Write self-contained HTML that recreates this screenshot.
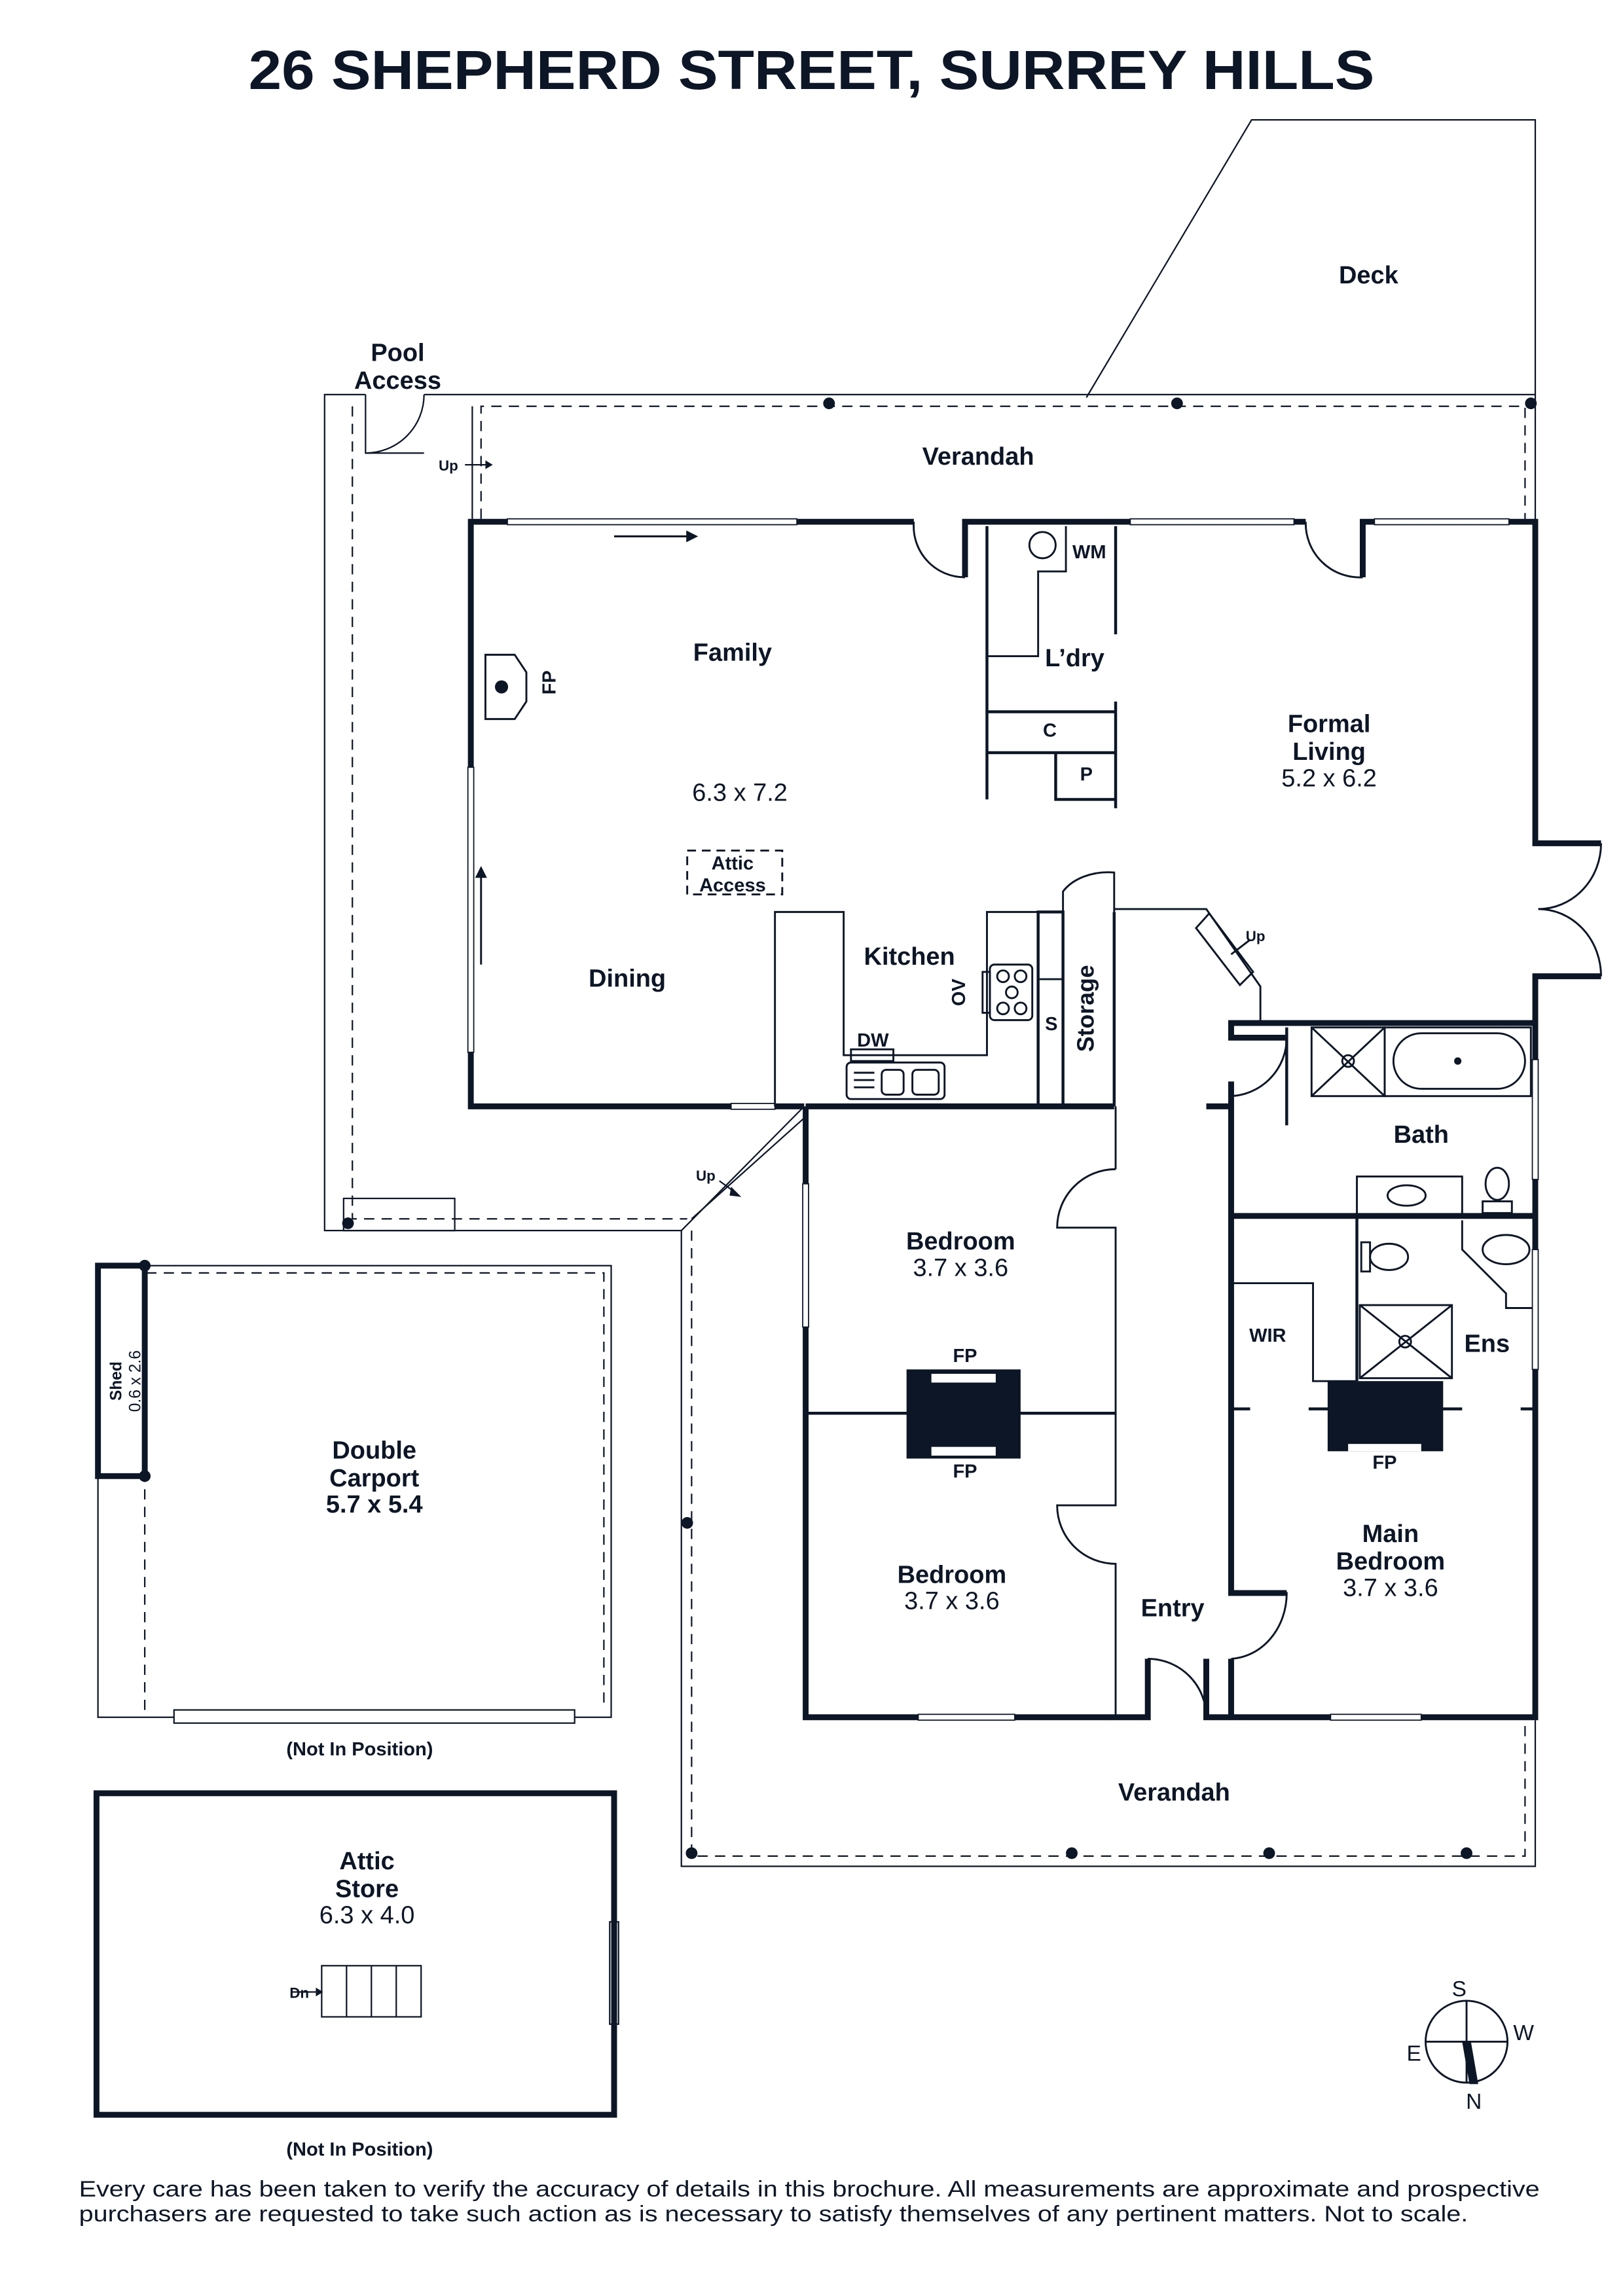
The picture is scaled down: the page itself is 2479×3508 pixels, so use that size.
<!DOCTYPE html>
<html><head><meta charset="utf-8"><style>
html,body{margin:0;padding:0;background:#fff}
svg{display:block}
text{font-family:"Liberation Sans",sans-serif;fill:#0d1626}
.b{font-weight:bold}
</style></head><body>
<svg width="2479" height="3508" viewBox="0 0 1110 1571" preserveAspectRatio="none" xmlns="http://www.w3.org/2000/svg">
<g stroke="#0d1626" fill="none" stroke-width="1">
<polyline points="743,272 856,82 1050,82 1050,357"/>
<line x1="290" y1="270" x2="1050" y2="270"/>
<polyline points="250,270 222,270 222,842 466,842"/>
<polyline points="250,270 250,310 290,310"/>
<path d="M290,270 A40,40 0 0 1 250,310"/>
<polyline points="329,355 329,278 1043,278 1043,355" stroke-dasharray="7,5"/>
<line x1="323" y1="278" x2="323" y2="355"/>
<polyline points="241,278 241,834 470,834" stroke-dasharray="7,5"/>
<rect x="235" y="820" width="76" height="22"/>
<line x1="466" y1="842" x2="550" y2="757"/>
<line x1="473" y1="834" x2="550" y2="765"/>
<polyline points="466,842 466,1277 1050,1277 1050,1177"/>
<polyline points="473,842 473,1270 1043,1270 1043,1177" stroke-dasharray="7,5"/>
<rect x="67" y="866" width="351" height="309"/>
<polyline points="99,1170 99,871 413,871 413,1170" stroke-dasharray="7,5"/>
<rect x="119" y="1170" width="274" height="9" fill="#fff"/>
<rect x="220" y="1345" width="68" height="35"/>
<line x1="237" y1="1345" x2="237" y2="1380"/><line x1="254" y1="1345" x2="254" y2="1380"/><line x1="271" y1="1345" x2="271" y2="1380"/>
<line x1="200" y1="1363" x2="216" y2="1363"/>
<line x1="318" y1="318" x2="332" y2="318"/>
<line x1="492" y1="808" x2="503" y2="816"/>
<rect x="417" y="1315" width="6" height="70" fill="#fff"/>
</g>
<g fill="#0d1626">
<circle cx="567" cy="276" r="4"/><circle cx="805" cy="276" r="4"/><circle cx="1047" cy="276" r="4"/>
<circle cx="238" cy="837" r="4"/><circle cx="470" cy="1042" r="4"/><circle cx="473" cy="1268" r="4"/>
<circle cx="733" cy="1268" r="4"/><circle cx="868" cy="1268" r="4"/><circle cx="1003" cy="1268" r="4"/>
<circle cx="99" cy="866" r="4"/><circle cx="99" cy="1010" r="4"/>
<polygon points="216,1360 221,1363 216,1366"/>
<polygon points="332,315 337,318 332,321"/>
<polygon points="500,812 507,819 499,818"/>
</g>
<g stroke="#0d1626" fill="none" stroke-width="4">
<rect x="67" y="866" width="32" height="144"/>
<rect x="66" y="1227" width="354" height="220"/>
<polyline points="625,357 322,357 322,757 550,757"/>
<polyline points="660,395 660,357 893,357"/>
<polyline points="932,395 932,357 1050,357 1050,577 1095,577"/>
<polyline points="1095,668 1050,668 1050,700"/>
<polyline points="551,757 762,757"/>
<line x1="825" y1="757" x2="842" y2="757"/>
<polyline points="551,757 551,1175 785,1175 785,1135"/>
<polyline points="825,1135 825,1175 1050,1175 1050,700 842,700 842,710 880,710"/>
<polyline points="842,740 842,1090 880,1090"/>
<polyline points="842,1135 842,1175"/>
<line x1="842" y1="832" x2="1050" y2="832"/>
</g>
<g fill="#fff" stroke="#0d1626" stroke-width="0.8">
<rect x="347" y="355" width="198" height="4"/><rect x="773" y="355" width="112" height="4"/><rect x="940" y="355" width="92" height="4"/>
<rect x="320" y="525" width="4" height="195"/><rect x="500" y="755" width="30" height="4"/>
<rect x="549" y="810" width="4" height="98"/><rect x="628" y="1173" width="66" height="4"/><rect x="910" y="1173" width="62" height="4"/>
<rect x="1048" y="725" width="4" height="82"/><rect x="1048" y="855" width="4" height="82"/>
</g>
<g stroke="#0d1626" fill="none" stroke-width="1.3">
<path d="M625,357 A35,35 0 0 0 660,395"/>
<path d="M893,357 A37,37 0 0 0 932,395"/>
<path d="M1095,577 A43,45 0 0 1 1052,622 A43,46 0 0 1 1095,668"/>
<line x1="420" y1="367" x2="470" y2="367"/><polygon points="470,364 476,367 470,370" fill="#0d1626"/>
<line x1="329" y1="660" x2="329" y2="600"/><polygon points="326,600 329,594 332,600" fill="#0d1626"/>
<polygon points="332,448 352,448 360,460 360,480 352,492 332,492"/>
<line x1="675" y1="360" x2="675" y2="547" stroke-width="2"/>
<line x1="763" y1="360" x2="763" y2="434" stroke-width="2"/>
<line x1="763" y1="480" x2="763" y2="553" stroke-width="2"/>
<polyline points="675,449 710,449 710,391 729,391 729,360"/>
<circle cx="713" cy="373" r="9"/>
<line x1="675" y1="487" x2="763" y2="487" stroke-width="2"/>
<line x1="675" y1="515" x2="763" y2="515" stroke-width="2"/>
<polyline points="722,515 722,547 763,547" stroke-width="2"/>
<rect x="470" y="582" width="65" height="30" stroke-dasharray="6,4"/>
<polyline points="530,757 530,624 577,624 577,722 675,722 675,624 710,624"/>
<rect x="710" y="624" width="17" height="133" stroke-width="2"/>
<line x1="710" y1="670" x2="727" y2="670"/>
<line x1="762" y1="624" x2="762" y2="757" stroke-width="2"/>
<path d="M727,624 L727,610 A35,25 0 0 1 762,597 L762,624"/>
<polyline points="762,622 825,622 862,675 862,700"/>
<polygon points="818,635 827,625 857,665 848,674"/>
<line x1="855" y1="643" x2="842" y2="653"/>
<rect x="579" y="727" width="67" height="25" rx="3"/><rect x="603" y="732" width="15" height="17" rx="3"/><rect x="624" y="732" width="18" height="17" rx="3"/>
<line x1="584" y1="734" x2="598" y2="734"/><line x1="584" y1="739" x2="598" y2="739"/><line x1="584" y1="744" x2="598" y2="744"/>
<rect x="582" y="718" width="29" height="8"/>
<rect x="677" y="660" width="29" height="38" rx="3"/><rect x="672" y="665" width="5" height="28"/>
<circle cx="686" cy="668" r="4"/><circle cx="698" cy="668" r="4"/><circle cx="692" cy="679" r="4"/><circle cx="686" cy="690" r="4"/><circle cx="698" cy="690" r="4"/>
<line x1="763" y1="757" x2="763" y2="800"/>
<path d="M763,800 A40,40 0 0 0 723,840 L763,840 L763,1030 L723,1030 A40,40 0 0 0 763,1070 L763,1175"/>
<line x1="551" y1="967" x2="763" y2="967" stroke-width="2"/>
<path d="M785,1135 A40,40 0 0 1 825,1175"/>
<path d="M842,1090 L880,1090 A40,45 0 0 1 842,1135"/>
<path d="M880,710 A40,40 0 0 1 842,750"/>
<line x1="880" y1="703" x2="880" y2="770" stroke-width="2"/>
<rect x="897" y="703" width="50" height="47"/><line x1="897" y1="703" x2="947" y2="750"/><line x1="947" y1="703" x2="897" y2="750"/><circle cx="922" cy="726" r="4"/>
<rect x="947" y="703" width="100" height="47"/><rect x="953" y="707" width="90" height="38" rx="19"/>
<rect x="928" y="805" width="72" height="27"/><ellipse cx="962" cy="818" rx="13" ry="7"/>
<ellipse cx="1024" cy="810" rx="8" ry="11"/><rect x="1014" y="822" width="20" height="8"/>
<line x1="928" y1="832" x2="928" y2="945" stroke-width="2"/>
<rect x="930" y="893" width="63" height="50"/><line x1="930" y1="893" x2="993" y2="943"/><line x1="993" y1="893" x2="930" y2="943"/><circle cx="961" cy="918" r="4"/>
<rect x="931" y="850" width="6" height="20"/><ellipse cx="950" cy="860" rx="13" ry="9"/>
<polyline points="1000,835 1000,855 1030,885 1030,895 1048,895"/><ellipse cx="1030" cy="855" rx="16" ry="10"/>
<polyline points="842,878 898,878 898,945 928,945"/>
<line x1="842" y1="964" x2="855" y2="964" stroke-width="2"/><line x1="895" y1="964" x2="1000" y2="964" stroke-width="2"/><line x1="1040" y1="964" x2="1050" y2="964" stroke-width="2"/>
<circle cx="1003" cy="1397" r="28"/>
<line x1="975" y1="1397" x2="1031" y2="1397"/>
<line x1="1003" y1="1369" x2="1003" y2="1425"/>
</g>
<g fill="#0d1626">
<circle cx="343" cy="470" r="4.5"/>
<circle cx="997" cy="726" r="2.5"/>
<rect x="620" y="937" width="78" height="61"/>
<rect x="908" y="945" width="79" height="48"/>
<polygon points="1000,1397 1006,1397 1011,1426 1005,1426"/>
</g>
<g fill="#fff"><rect x="637" y="940" width="44" height="6"/><rect x="637" y="990" width="44" height="6"/><rect x="922" y="988" width="50" height="5"/></g>
<text x="555" y="61" text-anchor="middle" class="b" font-size="38" textLength="770" lengthAdjust="spacingAndGlyphs">26 SHEPHERD STREET, SURREY HILLS</text>
<g class="b" font-size="17" text-anchor="middle">
<text x="936" y="194">Deck</text>
<text x="272" y="247">Pool</text><text x="272" y="266">Access</text>
<text x="669" y="318">Verandah</text>
<text x="501" y="452">Family</text>
<text x="735" y="456">L’dry</text>
<text x="909" y="501">Formal</text><text x="909" y="520">Living</text>
<text x="429" y="675">Dining</text>
<text x="622" y="660">Kitchen</text>
<text x="972" y="782">Bath</text>
<text x="657" y="855">Bedroom</text>
<text x="651" y="1083">Bedroom</text>
<text x="802" y="1106">Entry</text>
<text x="951" y="1055">Main</text><text x="951" y="1074">Bedroom</text>
<text x="1017" y="925">Ens</text>
<text x="803" y="1232">Verandah</text>
<text x="256" y="998">Double</text><text x="256" y="1017">Carport</text><text x="256" y="1035">5.7 x 5.4</text>
<text x="251" y="1279">Attic</text><text x="251" y="1298">Store</text>
</g>
<g font-size="17" text-anchor="middle">
<text x="506" y="548">6.3 x 7.2</text>
<text x="909" y="538">5.2 x 6.2</text>
<text x="657" y="873">3.7 x 3.6</text>
<text x="651" y="1101">3.7 x 3.6</text>
<text x="951" y="1092">3.7 x 3.6</text>
<text x="251" y="1316">6.3 x 4.0</text>
</g>
<g class="b" font-size="13" text-anchor="middle">
<text x="501" y="595">Attic</text><text x="501" y="610">Access</text>
<text x="745" y="382">WM</text>
<text x="718" y="504">C</text><text x="743" y="534">P</text>
<text x="597" y="716">DW</text>
<text x="867" y="918">WIR</text>
<text x="660" y="932">FP</text><text x="660" y="1011">FP</text><text x="947" y="1005">FP</text>
<text x="719" y="705">S</text>
<text x="246" y="1201">(Not In Position)</text>
<text x="246" y="1475">(Not In Position)</text>
<text x="375" y="472" transform="rotate(-90 375 467)">FP</text>
<text x="664" y="683" transform="rotate(-90 660 683)">OV</text>
</g>
<text x="748" y="690" class="b" font-size="16" text-anchor="middle" transform="rotate(-90 748 690)">Storage</text>
<g class="b" font-size="10">
<text x="300" y="322">Up</text><text x="852" y="644">Up</text><text x="476" y="808">Up</text><text x="198" y="1367">Dn</text>
</g>
<g class="b" font-size="11" transform="rotate(-90 86 945)"><text x="86" y="942" text-anchor="middle">Shed</text><text x="86" y="955" text-anchor="middle" font-weight="normal">0.6 x 2.6</text></g>
<g font-size="15" text-anchor="middle"><text x="998" y="1366">S</text><text x="1042" y="1396">W</text><text x="967" y="1410">E</text><text x="1008" y="1443">N</text></g>
<g font-size="15.5"><text x="54" y="1503" textLength="999" lengthAdjust="spacingAndGlyphs">Every care has been taken to verify the accuracy of details in this brochure. All measurements are approximate and prospective</text>
<text x="54" y="1520" textLength="950" lengthAdjust="spacingAndGlyphs">purchasers are requested to take such action as is necessary to satisfy themselves of any pertinent matters. Not to scale.</text></g>
</svg>
</body></html>
